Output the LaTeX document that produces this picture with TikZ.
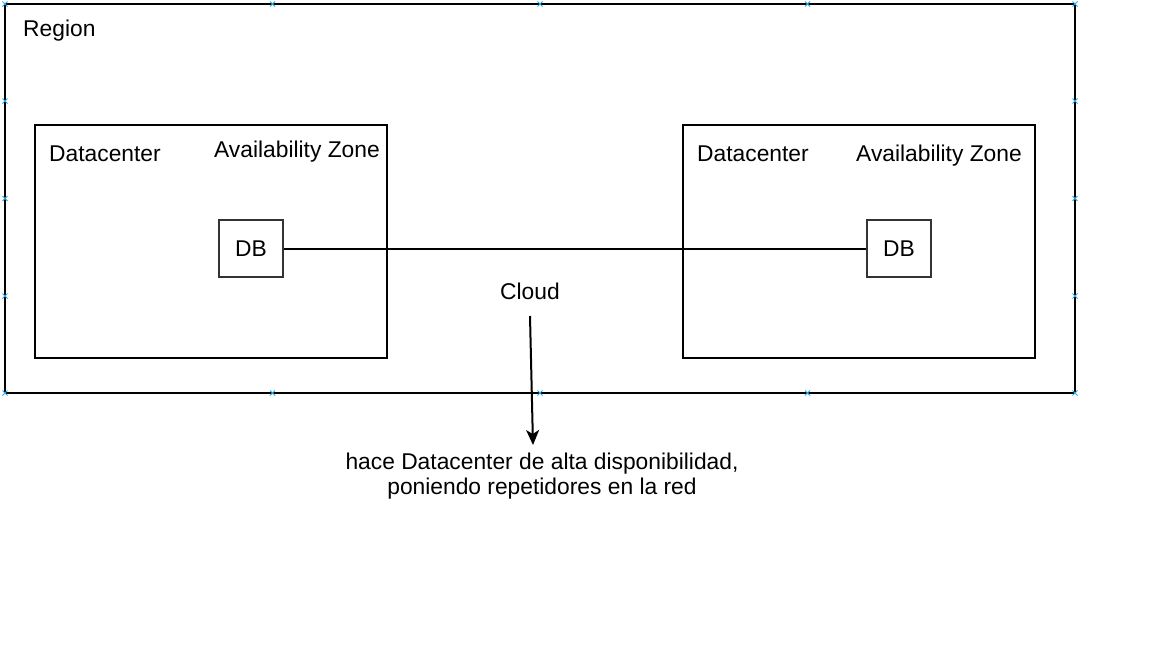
\documentclass[tikz,border=0pt]{standalone}
\usepackage{fontspec}
\setmainfont{Liberation Sans}
\usetikzlibrary{arrows.meta}
\definecolor{handleblue}{RGB}{41,170,230}
\begin{document}
\begin{tikzpicture}[x=1pt,y=-1pt,
  font=\fontsize{22.8}{25.5}\selectfont,
  frame/.style={draw,line width=2pt,inner sep=0pt},
  dbbox/.style={draw=black!80,line width=2pt,inner sep=0pt,minimum width=64pt,minimum height=57pt},
  lbl/.style={anchor=base west,inner sep=0pt},
  wire/.style={line width=2pt},
  handle/.style={handleblue,line width=1pt}]
  \useasboundingbox[fill=white] (0,0) rectangle (1152,648);
  % region and the two datacenters
  \node[frame,minimum width=1070pt,minimum height=389pt] (region) at (540,198.5) {};
  \node[lbl] (regionlbl) at (23,36) {Region};
  \node[frame,minimum width=352pt,minimum height=233pt] (dcleft) at (211,241.5) {};
  \node[frame,minimum width=352pt,minimum height=233pt] (dcright) at (859,241.5) {};
  \node[lbl] (dcleftlbl) at (49,161.5) {Datacenter};
  \node[lbl] (azleftlbl) at (214,157.5) {Availability Zone};
  \node[lbl] (dcrightlbl) at (697,161.5) {Datacenter};
  \node[lbl] (azrightlbl) at (856,161.5) {Availability Zone};
  % databases
  \node[dbbox] (dbleft) at (251,248.5) {DB};
  \node[dbbox] (dbright) at (899,248.5) {DB};
  \draw[wire] (dbleft) -- (dbright);
  % cloud note
  \node (cloud) at (530,291) {Cloud};
  \coordinate (arrowstart) at (530,316);
  \coordinate (arrowend) at (533,445);
  \draw[wire,-{Stealth[length=15pt,width=13pt,inset=4pt]}] (arrowstart) -- (arrowend);
  \node[align=center,inner sep=0pt] (note) at (542,476) {hace Datacenter de alta disponibilidad,\\poniendo repetidores en la red};
  % handles on the region
  \foreach \x in {5,272.5,540,807.5,1075}
    \foreach \y in {4,393}
      \draw[handle] (\x-2.5,\y-2.5) -- (\x+2.5,\y+2.5) (\x-2.5,\y+2.5) -- (\x+2.5,\y-2.5);
  \foreach \x in {5,1075}
    \foreach \y in {101,198.5,296}
      \draw[handle] (\x-2.5,\y-2.5) -- (\x+2.5,\y+2.5) (\x-2.5,\y+2.5) -- (\x+2.5,\y-2.5);
\end{tikzpicture}
\end{document}
